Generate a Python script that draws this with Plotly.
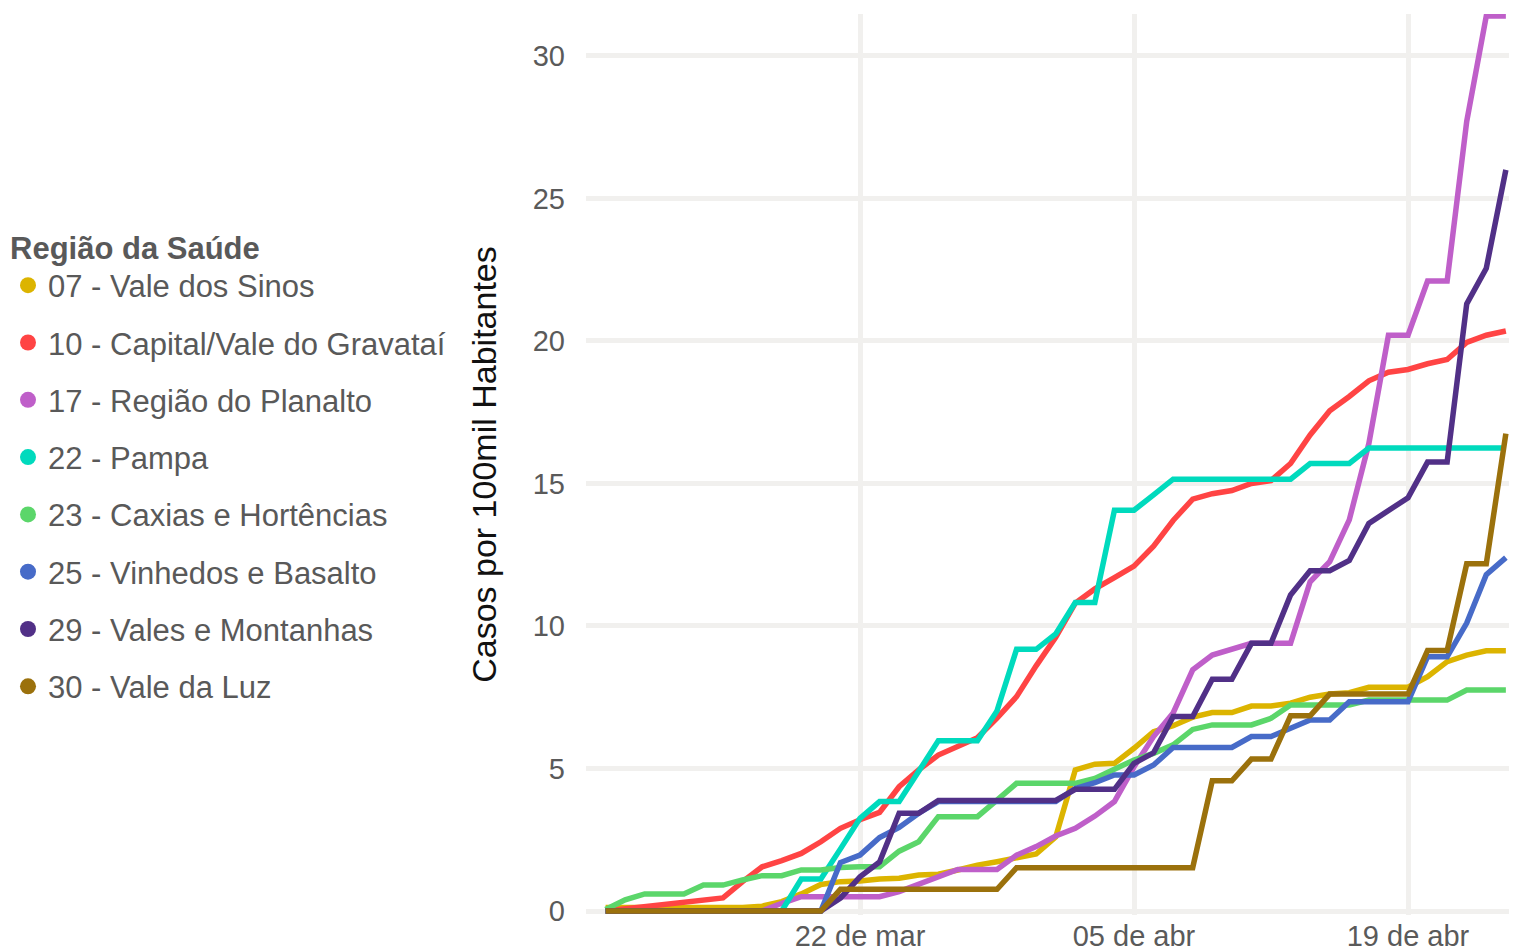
import plotly.graph_objects as go
import pandas as pd

# ---- data -------------------------------------------------------------
start_date = "2020-03-09"
end_date = "2020-04-24"

regions = [
    "07 - Vale dos Sinos",
    "10 - Capital/Vale do Gravataí",
    "17 - Região do Planalto",
    "22 - Pampa",
    "23 - Caxias e Hortências",
    "25 - Vinhedos e Basalto",
    "29 - Vales e Montanhas",
    "30 - Vale da Luz",
]

vale_dos_sinos = [0.12, 0.12, 0.12, 0.12, 0.12, 0.12, 0.12, 0.12, 0.17, 0.33,
                  0.6, 0.93, 1.03, 1.05, 1.12, 1.15, 1.26, 1.29, 1.44, 1.61,
                  1.73, 1.88, 2.0, 2.6, 4.95, 5.15, 5.18, 5.71, 6.29, 6.5,
                  6.8, 6.96, 6.96, 7.19, 7.19, 7.29, 7.5, 7.61, 7.66, 7.85,
                  7.85, 7.85, 8.22, 8.75, 8.98, 9.13, 9.13]
capital = [0.0, 0.07, 0.14, 0.21, 0.28, 0.36, 0.46, 1.03, 1.55, 1.77,
           2.02, 2.43, 2.9, 3.2, 3.46, 4.36, 4.95, 5.47, 5.8, 6.08,
           6.77, 7.52, 8.6, 9.6, 10.8, 11.3, 11.7, 12.1, 12.8, 13.7,
           14.45, 14.64, 14.75, 15.0, 15.1, 15.7, 16.7, 17.55, 18.05, 18.6,
           18.9, 19.0, 19.2, 19.35, 19.95, 20.2, 20.35]
planalto = [0.0, 0.0, 0.0, 0.0, 0.0, 0.0, 0.0, 0.0, 0.0, 0.27,
            0.5, 0.5, 0.5, 0.5, 0.5, 0.68, 0.93, 1.2, 1.46, 1.46,
            1.46, 1.96, 2.26, 2.63, 2.9, 3.33, 3.84, 5.06, 6.12, 6.95,
            8.46, 8.98, 9.18, 9.39, 9.39, 9.39, 11.55, 12.26, 13.72, 16.4,
            20.2, 20.2, 22.1, 22.1, 27.7, 31.4, 31.4]
pampa = [0.0, 0.0, 0.0, 0.0, 0.0, 0.0, 0.0, 0.0, 0.0, 0.0,
         1.12, 1.12, 2.18, 3.25, 3.84, 3.84, 4.9, 5.97, 5.97, 5.97,
         7.02, 9.18, 9.18, 9.72, 10.82, 10.82, 14.06, 14.06, 14.6, 15.15,
         15.15, 15.15, 15.15, 15.15, 15.15, 15.15, 15.7, 15.7, 15.7, 16.24,
         16.24, 16.24, 16.24, 16.24, 16.24, 16.24, 16.24]
caxias = [0.05, 0.39, 0.6, 0.6, 0.6, 0.91, 0.91, 1.09, 1.24, 1.24,
          1.44, 1.44, 1.53, 1.55, 1.55, 2.1, 2.43, 3.31, 3.31, 3.31,
          3.89, 4.48, 4.48, 4.48, 4.48, 4.65, 4.95, 5.3, 5.53, 5.83,
          6.37, 6.53, 6.53, 6.53, 6.76, 7.23, 7.23, 7.23, 7.23, 7.4,
          7.4, 7.4, 7.4, 7.4, 7.75, 7.75, 7.75]
vinhedos = [0.0, 0.0, 0.0, 0.0, 0.0, 0.0, 0.0, 0.0, 0.0, 0.0,
            0.0, 0.0, 1.7, 1.96, 2.58, 2.93, 3.43, 3.84, 3.84, 3.84,
            3.84, 3.84, 3.84, 3.84, 4.3, 4.5, 4.77, 4.77, 5.12, 5.74,
            5.74, 5.74, 5.74, 6.12, 6.12, 6.41, 6.7, 6.7, 7.34, 7.34,
            7.34, 7.34, 8.92, 8.92, 10.1, 11.8, 12.4]
montanhas = [0.0, 0.0, 0.0, 0.0, 0.0, 0.0, 0.0, 0.0, 0.0, 0.0,
             0.0, 0.0, 0.45, 1.2, 1.72, 3.43, 3.43, 3.88, 3.88, 3.88,
             3.88, 3.88, 3.88, 3.88, 4.27, 4.27, 4.27, 5.18, 5.55, 6.82,
             6.82, 8.13, 8.13, 9.39, 9.39, 11.09, 11.94, 11.94, 12.3, 13.6,
             14.05, 14.5, 15.75, 15.75, 21.3, 22.55, 26.0]
vale_da_luz = [0.0, 0.0, 0.0, 0.0, 0.0, 0.0, 0.0, 0.0, 0.0, 0.0,
               0.0, 0.0, 0.76, 0.76, 0.76, 0.76, 0.76, 0.76, 0.76, 0.76,
               0.76, 1.52, 1.52, 1.52, 1.52, 1.52, 1.52, 1.52, 1.52, 1.52,
               1.52, 4.57, 4.57, 5.33, 5.33, 6.85, 6.85, 7.61, 7.61, 7.61,
               7.61, 7.61, 9.14, 9.14, 12.18, 12.18, 16.75]

series = [vale_dos_sinos, capital, planalto, pampa, caxias,
          vinhedos, montanhas, vale_da_luz]

colors = ["#dcb400", "#ff4444", "#bf5fc9", "#00dabd",
          "#5bd66a", "#476bc8", "#513087", "#9b710c"]

x_tick_dates = ["2020-03-22", "2020-04-05", "2020-04-19"]
x_tick_text = ["22 de mar", "05 de abr", "19 de abr"]
y_tick_vals = [0, 5, 10, 15, 20, 25, 30]

legend_title = "Região da Saúde"
y_title = "Casos por 100mil Habitantes"

# ---- figure -----------------------------------------------------------
dates = pd.date_range(start_date, end_date, freq="D")
FONT = "Liberation Sans, Arial, sans-serif"

fig = go.Figure()
for name, vals, col in zip(regions, series, colors):
    fig.add_trace(go.Scatter(
        x=dates, y=vals, mode="lines", name=name,
        line=dict(color=col, width=5.5),
        legendgroup=name, showlegend=False, hoverinfo="x+y+name",
    ))
for name, col in zip(regions, colors):
    fig.add_trace(go.Scatter(
        x=[None], y=[None], mode="markers", name=name,
        marker=dict(color=col, size=22),
        legendgroup=name, showlegend=True,
    ))

# the page adds an 8px body margin, so the figure is 8px smaller each way
fig.update_layout(
    template="none",
    width=1509, height=942,
    margin=dict(l=578, r=0, t=6, b=35, autoexpand=False),
    paper_bgcolor="white", plot_bgcolor="white",
    font=dict(family=FONT, color="#5a5a5a"),
    showlegend=True,
    legend=dict(
        xref="container", yref="container",
        x=0.0, y=0.7768, xanchor="left", yanchor="top",
        traceorder="grouped", tracegroupgap=14,
        font=dict(size=31, color="#595959", family=FONT),
        title=dict(text=legend_title,
                   font=dict(size=31, color="#595959", family=FONT, weight="bold")),
        bgcolor="rgba(0,0,0,0)", itemsizing="trace",
        maxheight=900,
    ),
    xaxis=dict(
        type="date",
        range=["2020-03-08 00:00", "2020-04-24 13:40"],
        tickvals=x_tick_dates, ticktext=x_tick_text,
        showgrid=True, gridcolor="#f1f0ee", gridwidth=4.5,
        zeroline=False, showline=False, ticks="",
        tickfont=dict(size=29, color="#5a5a5a", family=FONT),
        ticklabelstandoff=1,
        automargin=False,
    ),
    yaxis=dict(
        range=[-0.14, 31.47],
        tickvals=y_tick_vals,
        showgrid=True, gridcolor="#f1f0ee", gridwidth=4.5,
        zeroline=False, showline=False, ticks="",
        tickfont=dict(size=29, color="#5a5a5a", family=FONT),
        ticklabelstandoff=20,
        title=dict(text=y_title, standoff=25,
                   font=dict(size=34, color="#111111", family=FONT)),
        automargin=False,
    ),
)

fig.write_html("out.html")
